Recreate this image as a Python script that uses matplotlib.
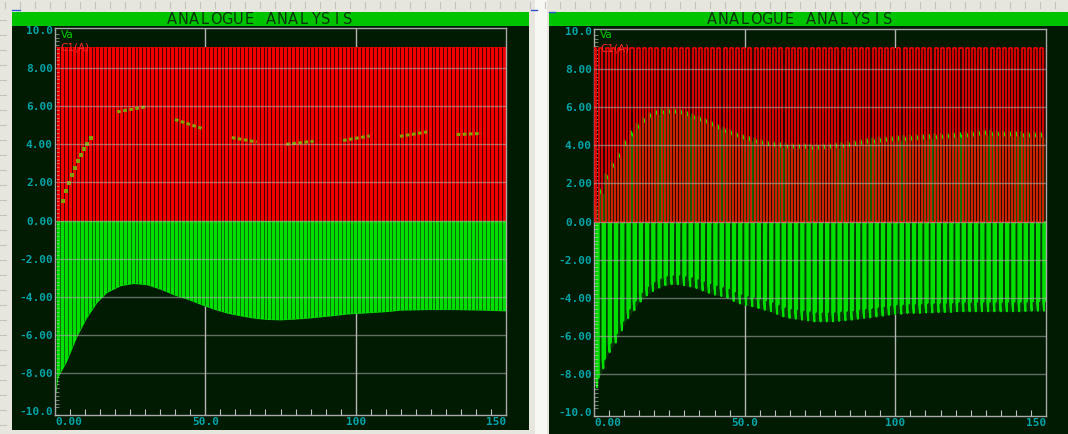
import numpy as np
import matplotlib
matplotlib.use("Agg")
from matplotlib import pyplot as plt
from matplotlib.patches import Rectangle
from matplotlib.lines import Line2D
from matplotlib.ticker import MultipleLocator

W, H = 1068, 434

# ---- left graph (coarse time step) ----
# bottom of the negative swing, read along the time axis
left_env_t = [0, 1, 3.8, 7.2, 10.5, 13.9, 17.2, 21.7, 26.1, 30.6, 35, 39.5, 43.9,
              48.4, 52.8, 57.3, 61.7, 66.2, 70.6, 75, 79.5, 83.9, 88.4, 92.8,
              97.3, 101.7, 106, 110.6, 115, 124, 133, 142, 150]
left_env_v = [-9.3, -8.2, -7.4, -6.1, -5.1, -4.3, -3.77, -3.42, -3.3, -3.37, -3.6,
              -3.9, -4.12, -4.4, -4.65, -4.86, -5.0, -5.12, -5.19, -5.21, -5.17,
              -5.12, -5.05, -4.98, -4.9, -4.86, -4.82, -4.77, -4.7, -4.67, -4.67,
              -4.7, -4.74]
# Va samples that show through on the start-up ramp
left_va_t = [2.7, 3.7, 4.7, 5.7, 6.8, 7.8, 8.8, 9.8, 10.8, 11.9]
left_va_v = [1.0, 1.53, 1.98, 2.4, 2.77, 3.12, 3.46, 3.77, 4.04, 4.35]
# later Va fragments: start/end time and value
left_seg_t0 = [20.7, 39.9, 58.8, 76.9, 95.8, 114.7, 133.6]
left_seg_t1 = [30.2, 48.9, 67.1, 86.0, 104.7, 123.8, 141.8]
left_seg_v0 = [5.7, 5.3, 4.35, 4.0, 4.2, 4.42, 4.51]
left_seg_v1 = [5.97, 4.83, 4.12, 4.16, 4.44, 4.65, 4.57]

# ---- right graph (fine time step), one value per switching cycle ----
right_hi = [1.0, 1.7, 2.5, 3.1, 3.6, 4.25, 4.75, 5.15, 5.45, 5.7, 5.85, 5.92, 5.95,
            5.93, 5.87, 5.77, 5.65, 5.53, 5.4, 5.24, 5.08, 4.93, 4.81, 4.68, 4.56,
            4.46, 4.38, 4.3, 4.22, 4.17, 4.14, 4.11, 4.09, 4.08, 4.07, 4.06, 4.06,
            4.07, 4.08, 4.11, 4.14, 4.19, 4.24, 4.29, 4.34, 4.39, 4.43, 4.45, 4.47,
            4.49, 4.51, 4.53, 4.55, 4.56, 4.58, 4.6, 4.61, 4.63, 4.65, 4.67, 4.7,
            4.73, 4.76, 4.78, 4.78, 4.76, 4.74, 4.73, 4.72, 4.71, 4.7, 4.69, 4.68]
right_lo = [-8.7, -7.7, -6.85, -6.35, -5.7, -5.07, -4.65, -4.2, -3.88, -3.65, -3.47,
            -3.34, -3.29, -3.29, -3.34, -3.4, -3.49, -3.62, -3.74, -3.84, -3.91,
            -4.0, -4.17, -4.3, -4.39, -4.45, -4.54, -4.63, -4.71, -4.85, -4.98,
            -5.06, -5.1, -5.15, -5.18, -5.24, -5.24, -5.24, -5.24, -5.21, -5.18,
            -5.15, -5.1, -5.06, -5.03, -4.98, -4.94, -4.89, -4.85, -4.84, -4.8,
            -4.8, -4.8, -4.77, -4.77, -4.75, -4.75, -4.75, -4.71, -4.71, -4.71,
            -4.71, -4.71, -4.71, -4.71, -4.71, -4.71, -4.71, -4.71, -4.7, -4.68,
            -4.68, -4.68]
PERIOD = 2.06
FIRST_EDGE = 0.75
ON_TIME = 1.0
DRIVE_HIGH = 9.1

y_ticks = [10, 8, 6, 4, 2, 0, -2, -4, -6, -8, -10]
y_labels = ["10.0", "8.00", "6.00", "4.00", "2.00", "0.00", "-2.00", "-4.00",
            "-6.00", "-8.00", "-10.0"]
x_ticks = [0, 50, 100, 150]
x_labels = ["0.00", "50.0", "100", "150"]
TITLE = "ANALOGUE ANALYSIS"

BG = "#011a02"
BAR = "#00c300"
RED = "#f20000"
GREEN = "#00e000"
CYAN = "#00a4a8"
GRID = "#b4b4b4"
DESK = "#e7e6de"

fig = plt.figure(figsize=(W / 100, H / 100), dpi=100)
fig.patch.set_facecolor(DESK)


def rect(x0, y0, x1, y1, color, z=0):
    fig.add_artist(Rectangle((x0 / W, 1 - y1 / H), (x1 - x0) / W, (y1 - y0) / H,
                             transform=fig.transFigure, color=color, lw=0, zorder=z))


def hline(x0, x1, y, color, lw=1):
    fig.add_artist(Line2D([x0 / W, x1 / W], [1 - y / H, 1 - y / H],
                          transform=fig.transFigure, color=color, lw=lw))


def vline(x, y0, y1, color, lw=1):
    fig.add_artist(Line2D([x / W, x / W], [1 - y0 / H, 1 - y1 / H],
                          transform=fig.transFigure, color=color, lw=lw))


# desk rulers
for x in np.arange(5, W, 15):
    vline(x, 2, 8, "#c4c3bb", 0.8)
for y in np.arange(20, H, 15):
    hline(0, 6, y, "#c4c3bb", 0.8)
rect(535, 0, 547, H, "#f7f7f4")
hline(12, 20, 10, "#3556d0", 1)
hline(531, 537, 10, "#3556d0", 1)
hline(549, 555, 12, "#3556d0", 1)


def panel(x0, x1, bottom, plot_box, title_cx):
    rect(x0, 12, x1, bottom, BG)
    rect(x0, 12, x1, 26, BAR)
    # graph header, in the wide evenly spaced lettering of the simulator
    for i, ch in enumerate(TITLE):
        fig.text((title_cx + (i - 8) * 11) / W, 1 - 19 / H, ch, ha="center",
                 va="center", fontsize=10.5, color="#073307", family="DejaVu Sans")
    px0, py0, px1, py1 = plot_box
    ax = fig.add_axes([px0 / W, 1 - py1 / H, (px1 - px0) / W, (py1 - py0) / H])
    ax.set_facecolor(BG)
    ax.set_xlim(0, 150)
    ax.set_ylim(-10.2, 10.1)
    for s in ax.spines.values():
        s.set_color("#a8a8a8")
        s.set_linewidth(1.0)
    ax.set_axisbelow(False)
    ax.set_yticks(y_ticks)
    ax.set_yticklabels(y_labels)
    ax.set_xticks(x_ticks)
    ax.set_xticklabels(x_labels)
    lbls = ax.get_xticklabels()
    lbls[0].set_ha("left")
    lbls[-1].set_ha("right")
    ax.tick_params(which="major", length=0, pad=1.5, colors=CYAN, labelsize=8)
    for t in ax.get_xticklabels() + ax.get_yticklabels():
        t.set_family("DejaVu Sans Mono")
        t.set_weight("bold")
    ax.yaxis.set_minor_locator(MultipleLocator(0.2))
    ax.xaxis.set_minor_locator(MultipleLocator(5))
    ax.tick_params(which="minor", direction="in", length=3, width=0.8,
                   color=(0.8, 0.8, 0.8, 0.55))
    ax.tick_params(axis="x", which="minor", length=4, color=(0.75, 0.75, 0.75, 1))
    for x in (50, 100):
        ax.axvline(x, color=GRID, lw=1.0, zorder=1)
    for y in range(-8, 10, 2):
        ax.axhline(y, color=GRID, lw=1.0, alpha=0.55, zorder=5)
    # legend names, stacked in the top-left corner
    ax.text(0.013, 1 - 9.5 / 387, "Va", transform=ax.transAxes, color="#00cc00",
            fontsize=7.5, ha="left", va="baseline", zorder=6)
    ax.text(0.013, 1 - 22.5 / 387, "C1(A)", transform=ax.transAxes, color="#ff2a2a",
            fontsize=7.5, ha="left", va="baseline", zorder=6)
    return ax


# ---- left graph ----
axl = panel(12, 529, 430, (55, 28, 506, 415), 260)
axl.fill_between([0, 150], 0, DRIVE_HIGH, color=RED, lw=0, zorder=2)
green = axl.fill_between(left_env_t, left_env_v, 0, color=GREEN, lw=0, zorder=2)
gap_x = np.arange(0.45, 150, 1.3)
axl.vlines(gap_x, 0, DRIVE_HIGH, color="#2a0000", lw=0.6, zorder=3)
gaps = axl.vlines(gap_x, -10, 0, color="#0a5a0a", lw=0.6, zorder=3)
gaps.set_clip_path(green.get_paths()[0], axl.transData)
axl.plot(left_va_t, left_va_v, ls="none", marker="s", ms=2.5, mew=0,
         color="#82a000", zorder=4)
for t0, t1, v0, v1 in zip(left_seg_t0, left_seg_t1, left_seg_v0, left_seg_v1):
    axl.plot([t0, t1], [v0, v1], color="#86a400", lw=2.2, ls=(0, (1.2, 0.8)),
             zorder=4)

# ---- right graph ----
axr = panel(549, 1075, 440, (594, 29, 1046, 416), 800)
gt, gv, rt, rv, edge_t = [], [], [], [], []
for k in range(len(right_hi)):
    end = FIRST_EDGE + k * PERIOD
    start = max(end - ON_TIME, 0)
    hi, lo = right_hi[k], right_lo[k]
    edge_t.append(end)
    gt += [start, end, end, end + 0.3, end + 0.3, end + 0.62, end + 0.72,
           end + 0.8, end + PERIOD - ON_TIME]
    gv += [hi, hi - 0.3, lo + 0.45, lo, -0.05, -0.05, lo + 0.5, -0.05, -0.05]
    rt += [start, start, end, end]
    rv += [0, DRIVE_HIGH, DRIVE_HIGH, 0]
# faint haze between the traces
axr.fill_between([0, 150], 0, DRIVE_HIGH, color="#2e0700", lw=0, zorder=1.2)
axr.fill_between(edge_t, right_lo, 0, color="#053905", lw=0, zorder=1.2)
axr.plot(gt, gv, color=GREEN, lw=1.4, zorder=2)
axr.plot(rt, rv, color=RED, lw=1.2, zorder=3)

fig.savefig("out.png", dpi=100, facecolor=DESK)
